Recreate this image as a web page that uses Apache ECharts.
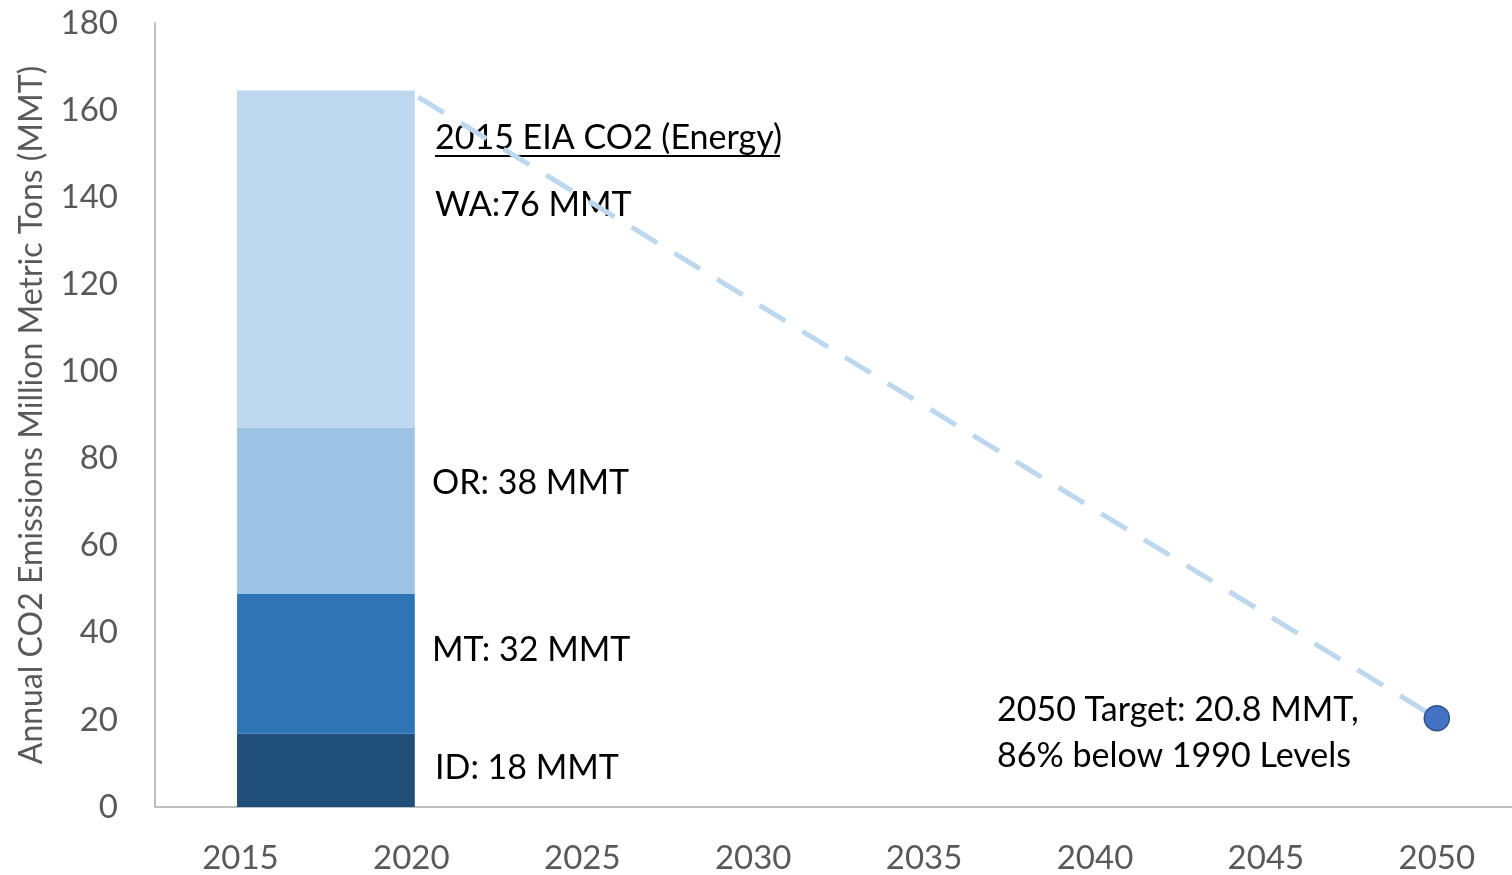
<!DOCTYPE html>
<html>
<head>
<meta charset="utf-8">
<script src="https://cdn.jsdelivr.net/npm/echarts@6/dist/echarts.min.js"></script>
<style>
  html, body { margin: 0; padding: 0; background: #fff; }
  #chart { width: 1512px; height: 875px; }
</style>
</head>
<body>
<div id="chart"></div>
<script>
// 数据
var states = ['ID', 'MT', 'OR', 'WA'];
var stateValues = [16.8, 32.1, 38.2, 77.4];
var stateColors = ['#1F4E79', '#2E75B6', '#9DC3E6', '#BDD7EE'];
var barYears = [2014.9, 2020.1];
var pathYears = [2020.2, 2050];
var pathValues = [163, 20.4];
var targetPoint = [2050, 20.4];
var xTicks = [2015, 2020, 2025, 2030, 2035, 2040, 2045, 2050];

var FONT = 'Lato';
var TXT = '#000';
var GRAY = '#595959';

// 堆积的柱子：每段 [x0, x1, 下沿, 上沿, 颜色序号]
var barData = [];
var base = 0;
for (var i = 0; i < states.length; i++) {
    barData.push([barYears[0], barYears[1], base, base + stateValues[i], i]);
    base += stateValues[i];
}

var chart = echarts.init(document.getElementById('chart'));

function txt(x, y, s) {
    return {
        type: 'text', x: x, y: y,
        style: { text: s, fill: TXT, font: '34px ' + FONT, verticalAlign: 'middle' }
    };
}

var option = {
    animation: false,
    grid: { left: 155, right: 0, top: 23, bottom: 67 },
    xAxis: {
        type: 'value',
        min: 2012.5,
        max: 2052.2,
        splitLine: { show: false },
        axisLine: { show: true, lineStyle: { color: '#BFBFBF', width: 2 } },
        axisTick: { show: false },
        axisLabel: {
            customValues: xTicks,
            formatter: function (v) { return String(v); },
            color: GRAY, fontFamily: FONT, fontSize: 33, margin: 35
        }
    },
    yAxis: {
        type: 'value',
        min: 0, max: 180, interval: 20,
        name: 'Annual CO2 Emissions Million Metric Tons (MMT)',
        nameLocation: 'middle',
        nameGap: 107,
        nameTextStyle: { color: GRAY, fontFamily: FONT, fontSize: 32 },
        splitLine: { show: false },
        axisLine: { show: true, lineStyle: { color: '#BFBFBF', width: 2 } },
        axisTick: { show: false },
        axisLabel: { color: GRAY, fontFamily: FONT, fontSize: 33, margin: 37 }
    },
    series: [
        {
            type: 'custom',
            data: barData,
            encode: { x: [0, 1], y: [2, 3] },
            renderItem: function (params, api) {
                var p0 = api.coord([api.value(0), api.value(2)]);
                var p1 = api.coord([api.value(1), api.value(3)]);
                return {
                    type: 'rect',
                    shape: { x: p0[0], y: p1[1], width: p1[0] - p0[0], height: p0[1] - p1[1] },
                    style: { fill: stateColors[api.value(4)] }
                };
            },
            z: 2
        },
        {
            type: 'line',
            data: [[pathYears[0], pathValues[0]], [pathYears[1], pathValues[1]]],
            symbol: 'none',
            lineStyle: { color: '#BDD7EE', width: 5, type: [30, 20] },
            z: 1
        },
        {
            type: 'scatter',
            data: [targetPoint],
            symbolSize: 25,
            itemStyle: { color: '#4472C4', opacity: 1, borderColor: '#2F528F', borderWidth: 1.5 },
            z: 3
        }
    ],
    graphic: [
        txt(435, 138, '2015 EIA CO2 (Energy)'),
        { type: 'rect', shape: { x: 435, y: 155, width: 345, height: 2 }, style: { fill: TXT } },
        txt(435, 205, 'WA:76 MMT'),
        txt(432, 483, 'OR: 38 MMT'),
        txt(432, 650, 'MT: 32 MMT'),
        txt(435, 768, 'ID: 18 MMT'),
        txt(997, 710, '2050 Target: 20.8 MMT,'),
        txt(997, 756, '86% below 1990 Levels')
    ]
};

chart.setOption(option);
</script>
</body>
</html>
